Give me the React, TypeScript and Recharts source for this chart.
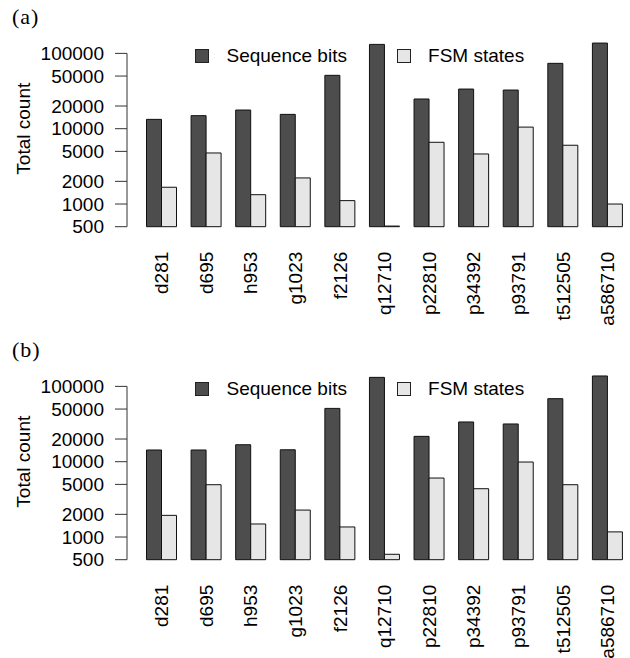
import React from 'react';
import { BarChart, Bar, XAxis, YAxis, Legend } from 'recharts';

const categories = ['d281', 'd695', 'h953', 'g1023', 'f2126', 'q12710', 'p22810', 'p34392', 'p93791', 't512505', 'a586710'];

// panel (a)
const seqBitsA = [13300, 14900, 17700, 15500, 51100, 131600, 24800, 33600, 32600, 73700, 137000];
const fsmStatesA = [1670, 4760, 1330, 2220, 1110, 510, 6600, 4620, 10500, 6030, 1000];

// panel (b)
const seqBitsB = [14300, 14300, 16800, 14400, 51000, 131700, 21700, 33700, 31700, 68700, 137500];
const fsmStatesB = [1940, 4950, 1490, 2280, 1360, 590, 6070, 4380, 9900, 4950, 1170];

const yTicks = [500, 1000, 2000, 5000, 10000, 20000, 50000, 100000];
const yDomain = [500, 200000];

const FONT = '"Liberation Sans", Arial, Helvetica, sans-serif';
const DARK = '#4d4d4d';
const LIGHT = '#e6e6e6';

const PLOT_TOP = 30.7;
const PLOT_H = 196;
const PANEL_H = 333;

// hide the part of the axis line above the highest tick, like R's axis()
const topGap = (PLOT_H * Math.log(yDomain[1] / yTicks[yTicks.length - 1])) / Math.log(yDomain[1] / yDomain[0]);

const CategoryTick = (props: any) => {
  const { x, y, payload } = props;
  const ty = y + 25;
  return (
    <text
      x={x}
      y={ty}
      transform={`rotate(-90, ${x}, ${ty})`}
      textAnchor="end"
      dominantBaseline="central"
      fontSize={19}
      fontFamily={FONT}
      fill="#000"
    >
      {payload.value}
    </text>
  );
};

const YLabel = (props: any) => {
  const { viewBox } = props;
  const cx = 24;
  const cy = viewBox.y + viewBox.height / 2;
  return (
    <text
      x={cx}
      y={cy}
      transform={`rotate(-90, ${cx}, ${cy})`}
      textAnchor="middle"
      dominantBaseline="central"
      fontSize={19}
      fontFamily={FONT}
      fill="#000"
    >
      Total count
    </text>
  );
};

const LegendBox = () => {
  const items = [
    { name: 'Sequence bits', color: DARK },
    { name: 'FSM states', color: LIGHT },
  ];
  return (
    <div style={{ display: 'flex', fontFamily: FONT, fontSize: 19, color: '#000' }}>
      {items.map((it) => (
        <div key={it.name} style={{ display: 'flex', alignItems: 'center', width: 201.6, height: 22 }}>
          <span
            style={{
              display: 'inline-block',
              width: 12,
              height: 12,
              background: it.color,
              border: '1px solid #222',
              marginRight: 17.5,
            }}
          />
          <span style={{ lineHeight: '22px' }}>{it.name}</span>
        </div>
      ))}
    </div>
  );
};

interface PanelProps {
  title: string;
  seq: number[];
  fsm: number[];
  top: number;
}

const Panel: React.FC<PanelProps> = ({ title, seq, fsm, top }) => {
  const data = categories.map((c, i) => ({ name: c, seq: seq[i], fsm: fsm[i] }));
  return (
    <div style={{ position: 'absolute', left: 0, top, width: 630, height: PANEL_H }}>
      <div
        style={{
          position: 'absolute',
          left: 12,
          top: 4,
          fontFamily: '"Liberation Serif", "DejaVu Serif", serif',
          fontSize: 22,
          letterSpacing: 1,
        }}
      >
        {title}
      </div>
      <BarChart
        width={630}
        height={PANEL_H}
        data={data}
        margin={{ top: PLOT_TOP, right: 0, left: 0, bottom: PANEL_H - PLOT_TOP - PLOT_H - 100 }}
        barGap={0}
        barSize={15}
      >
        <XAxis
          dataKey="name"
          axisLine={false}
          tickLine={false}
          tickSize={0}
          tickMargin={0}
          interval={0}
          height={100}
          padding={{ left: 12.5, right: 0 }}
          tick={<CategoryTick />}
        />
        <YAxis
          scale="log"
          domain={yDomain}
          ticks={yTicks}
          interval={0}
          width={127}
          tickSize={12}
          tickMargin={11}
          tick={{ fontSize: 19, fontFamily: FONT, fill: '#000' }}
          tickLine={{ stroke: '#333' }}
          axisLine={{ stroke: '#333', strokeDasharray: `0 ${topGap} ${PLOT_H} 1000` }}
          label={<YLabel />}
        />
        <Legend
          verticalAlign="middle"
          layout="horizontal"
          content={<LegendBox />}
          wrapperStyle={{ top: PLOT_TOP + 14, left: 195, width: 430 }}
        />
        <Bar dataKey="seq" name="Sequence bits" fill={DARK} stroke="#111" strokeWidth={1} isAnimationActive={false} />
        <Bar dataKey="fsm" name="FSM states" fill={LIGHT} stroke="#111" strokeWidth={1} isAnimationActive={false} />
      </BarChart>
    </div>
  );
};

export default function App() {
  return (
    <div style={{ position: 'absolute', left: 0, top: 0, width: 630, height: 658, overflow: 'hidden', background: '#fff' }}>
      <Panel title="(a)" seq={seqBitsA} fsm={fsmStatesA} top={0} />
      <Panel title="(b)" seq={seqBitsB} fsm={fsmStatesB} top={333.4} />
    </div>
  );
}
